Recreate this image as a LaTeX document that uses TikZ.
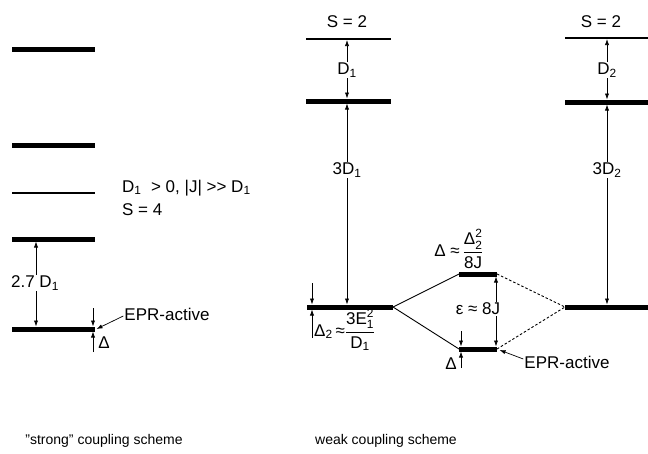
\documentclass[tikz,border=0pt]{standalone}
\usepackage{fontspec}
\usepackage{amsmath}
\setmainfont{Liberation Sans}
\usetikzlibrary{arrows.meta}
\begin{document}
\begin{tikzpicture}[x=1pt,y=-1pt,
  thicklvl/.style={line width=5pt},
  thinlvl/.style={line width=1.8pt},
  conn/.style={line width=0.9pt},
  dashconn/.style={line width=0.9pt,dash pattern=on 2.5pt off 2pt},
  dimline/.style={line width=0.7pt,{Latex[length=6pt,width=4.2pt]}-{Latex[length=6pt,width=4.2pt]}},
  tipline/.style={line width=0.7pt,-{Latex[length=6pt,width=4.2pt]}},
  lbl/.style={font=\fontsize{17}{19}\selectfont, inner sep=1pt},
  fraclbl/.style={font=\fontsize{15}{17}\selectfont, inner sep=0pt},
  wlbl/.style={lbl, fill=white},
  captext/.style={font=\fontsize{14}{16}\selectfont, inner sep=0pt}]
\useasboundingbox (0,0) rectangle (648,453);

% ---------- left: strong coupling ----------
\draw[thicklvl] (12,49) coordinate (La1) -- (95,49) coordinate (La2);
\draw[thicklvl] (12,145) coordinate (Lb1) -- (95,145) coordinate (Lb2);
\draw[thinlvl] (12,193) coordinate (Lc1) -- (95,193) coordinate (Lc2);
\draw[thicklvl] (12,239) coordinate (Ld1) -- (95,239) coordinate (Ld2);
\draw[thicklvl] (12,329) coordinate (Le1) -- (95,329) coordinate (Le2);

\coordinate (Ldt) at (36,241.5);
\coordinate (Ldb) at (36,326.5);
\draw[dimline] (Ldt) -- (Ldb);
\node[wlbl] (l27) at (35,283) {2.7 D\textsubscript{1}};

\coordinate (LDa) at (93,308);
\coordinate (LDb) at (93,326.5);
\coordinate (LDc) at (93,352);
\coordinate (LDd) at (93,331.5);
\draw[tipline] (LDa) -- (LDb);
\draw[tipline] (LDc) -- (LDd);
\node[lbl] (lDelta) at (104,343) {Δ};

\node[lbl] (lepr) at (167,314) {EPR-active};
\coordinate (lepre) at (96.5,329);
\draw[tipline] (lepr.west) ++(0,2) coordinate (lepra) -- (lepre);

\node[lbl,anchor=west] (lcond) at (121,188) {D\textsubscript{1}\ \ \mbox{>} 0, |J| \mbox{>}\mbox{>} D\textsubscript{1}};
\node[lbl,anchor=west] (lS) at (121,210) {S = 4};

% ---------- middle: weak coupling, ion 1 ----------
\draw[thinlvl] (306,39) coordinate (Ma1) -- (391,39) coordinate (Ma2);
\draw[thicklvl] (306,101) coordinate (Mb1) -- (391,101) coordinate (Mb2);
\draw[thicklvl] (307,307) coordinate (Mc1) -- (393,307) coordinate (Mc2);
\node[lbl] (mS) at (347,22) {S = 2};

\coordinate (MD1t) at (347,40);
\coordinate (MD1b) at (347,98.5);
\draw[dimline] (MD1t) -- (MD1b);
\node[wlbl] (mD1) at (347,70) {D\textsubscript{1}};

\coordinate (M3t) at (347,103.5);
\coordinate (M3b) at (347,304.5);
\draw[dimline] (M3t) -- (M3b);
\node[wlbl] (m3D1) at (347,170) {3D\textsubscript{1}};

\coordinate (MDa) at (312,283);
\coordinate (MDb) at (312,304.5);
\coordinate (MDc) at (312,338);
\coordinate (MDd) at (312,309.5);
\draw[tipline] (MDa) -- (MDb);
\draw[tipline] (MDc) -- (MDd);
\node[fraclbl,anchor=west] (mDelta2) at (314,330)
  {\fontsize{17}{19}\selectfont Δ\textsubscript{2}$\,\text{≈}\dfrac{\text{3E}^{\text{2}}_{\text{1}}}{\text{D}_{\text{1}}}$};

% ---------- coupled levels ----------
\draw[thicklvl] (459,274) coordinate (Ua1) -- (497,274) coordinate (Ua2);
\draw[thicklvl] (459,349) coordinate (Ub1) -- (497,349) coordinate (Ub2);
\draw[conn] (Mc2) -- (Ua1);
\draw[conn] (Mc2) -- (Ub1);

\coordinate (Ept) at (496,276.5);
\coordinate (Epb) at (496,346.5);
\draw[dimline] (Ept) -- (Epb);
\node[wlbl] (eps) at (478,309) {ε ≈ 8J};

\node[lbl] (dfrac) at (459,249)
  {Δ $\text{≈}\,\dfrac{\text{Δ}^{\text{2}}_{\text{2}}}{\text{8J}}$};

\coordinate (UDa) at (461,331);
\coordinate (UDb) at (461,346.5);
\coordinate (UDc) at (461,368);
\coordinate (UDd) at (461,351.5);
\draw[tipline] (UDa) -- (UDb);
\draw[tipline] (UDc) -- (UDd);
\node[lbl] (uDelta) at (451,364) {Δ};

\node[lbl] (mepr) at (567,362) {EPR-active};
\coordinate (mepre) at (499.5,350);
\draw[tipline] (mepr.west) ++(0,-3) coordinate (mepra) -- (mepre);

% ---------- right: ion 2 ----------
\draw[thinlvl] (565,38) coordinate (Ra1) -- (648,38) coordinate (Ra2);
\draw[thicklvl] (565,102) coordinate (Rb1) -- (648,102) coordinate (Rb2);
\draw[thicklvl] (565,307) coordinate (Rc1) -- (648,307) coordinate (Rc2);
\node[lbl] (rS) at (601,22) {S = 2};

\coordinate (RD2t) at (607,39);
\coordinate (RD2b) at (607,99.5);
\draw[dimline] (RD2t) -- (RD2b);
\node[wlbl] (rD2) at (607,70) {D\textsubscript{2}};

\coordinate (R3t) at (607,104.5);
\coordinate (R3b) at (607,304.5);
\draw[dimline] (R3t) -- (R3b);
\node[wlbl] (r3D2) at (607,170) {3D\textsubscript{2}};

\draw[dashconn] (Ua2) -- (Rc1);
\draw[dashconn] (Ub2) -- (Rc1);

% ---------- captions ----------
\node[captext] (capl) at (104,441) {"strong" coupling scheme};
\node[captext] (capr) at (386,441) {weak coupling scheme};
\end{tikzpicture}
\end{document}
